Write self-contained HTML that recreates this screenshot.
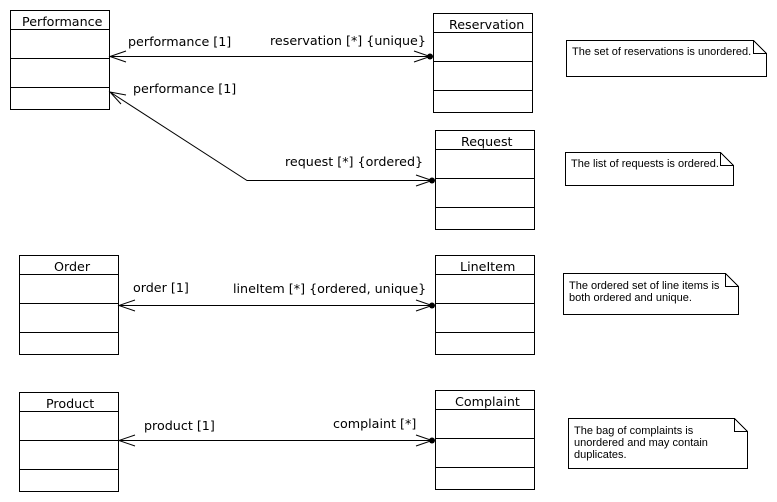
<!DOCTYPE html>
<html><head><meta charset="utf-8"><style>
body{margin:0;background:#fff;}
svg{display:block}
.t{font-family:"DejaVu Sans","Liberation Sans",sans-serif;font-size:12.7px;fill:#000}
.n{font-family:"Liberation Sans",sans-serif;font-size:11px;fill:#000}
</style></head><body>
<svg width="777" height="502" viewBox="0 0 777 502" xmlns="http://www.w3.org/2000/svg">
<g fill="#fff" stroke="#000" stroke-width="1" shape-rendering="crispEdges">
<rect x="10.5" y="10.5" width="99" height="99"/><path d="M10 29.5H110M10 58.5H110M10 87.5H110"/>
<rect x="433.5" y="13.5" width="99" height="99"/><path d="M433 32.5H533M433 61.5H533M433 90.5H533"/>
<rect x="435.5" y="130.5" width="99" height="99"/><path d="M435 149.5H535M435 178.5H535M435 207.5H535"/>
<rect x="19.5" y="255.5" width="99" height="99"/><path d="M19 274.5H119M19 303.5H119M19 332.5H119"/>
<rect x="435.5" y="255.5" width="99" height="99"/><path d="M435 274.5H535M435 303.5H535M435 332.5H535"/>
<rect x="19.5" y="392.5" width="99" height="99"/><path d="M19 411.5H119M19 440.5H119M19 469.5H119"/>
<rect x="435.5" y="390.5" width="99" height="99"/><path d="M435 409.5H535M435 438.5H535M435 467.5H535"/>
</g>
<g class="t">
<text x="22" y="26">Performance</text>
<text x="449" y="29">Reservation</text>
<text x="461" y="146">Request</text>
<text x="54" y="271">Order</text>
<text x="460" y="271">LineItem</text>
<text x="46" y="408">Product</text>
<text x="455" y="406">Complaint</text>
<text x="128" y="46">performance [1]</text>
<text x="270" y="45">reservation [*] {unique}</text>
<text x="133" y="93">performance [1]</text>
<text x="285" y="166">request [*] {ordered}</text>
<text x="133" y="292">order [1]</text>
<text x="233" y="293">lineItem [*] {ordered, unique}</text>
<text x="144" y="430">product [1]</text>
<text x="333" y="428">complaint [*]</text>
</g>
<g fill="none" stroke="#000" stroke-width="1">
<path d="M110 56.5H430M126 51L110 56.5L126 62M414 51L430 56.5L414 62"/>
<path d="M110 92L247 180.5H432M126 95L110 92L121 104M416 175L432 180.5L416 186"/>
<path d="M119 305.5H432M135 300L119 305.5L135 311M416 300L432 305.5L416 311"/>
<path d="M119 440.5H432M135 435L119 440.5L135 446M416 435L432 440.5L416 446"/>
</g>
<g fill="#000"><circle cx="430" cy="56.5" r="3"/><circle cx="432" cy="180.5" r="3"/><circle cx="432" cy="305.5" r="3"/><circle cx="432" cy="440.5" r="3"/></g>
<g fill="#fff" stroke="#000" stroke-width="1" shape-rendering="crispEdges">
<path d="M566.5 40.5H753.5L766.5 53.5V76.5H566.5Z M753.5 40.5V53.5H766.5"/>
<path d="M565.5 152.5H720.5L733.5 165.5V185.5H565.5Z M720.5 152.5V165.5H733.5"/>
<path d="M563.5 273.5H725.5L738.5 286.5V314.5H563.5Z M725.5 273.5V286.5H738.5"/>
<path d="M568.5 418.5H734.5L747.5 431.5V468.5H568.5Z M734.5 418.5V431.5H747.5"/>
</g>
<g class="n">
<text x="572" y="55">The set of reservations is unordered.</text>
<text x="571" y="167">The list of requests is ordered.</text>
<text x="569" y="289">The ordered set of line items is</text>
<text x="569" y="301">both ordered and unique.</text>
<text x="574" y="434">The bag of complaints is</text>
<text x="574" y="446">unordered and may contain</text>
<text x="574" y="458">duplicates.</text>
</g>
</svg>
</body></html>
